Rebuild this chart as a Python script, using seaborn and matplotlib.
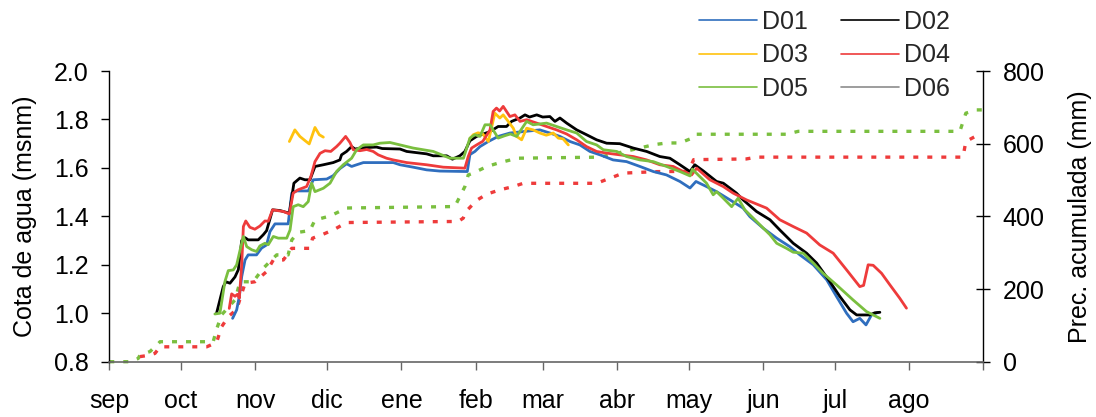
import matplotlib
matplotlib.use('Agg')
import seaborn as sns
from matplotlib import pyplot as plt

# eje x: dias contados desde el 1 de septiembre
meses = ['sep', 'oct', 'nov', 'dic', 'ene', 'feb', 'mar', 'abr', 'may', 'jun', 'jul', 'ago', '']
inicio_mes = [0, 30, 61, 91, 122, 153, 181, 212, 242, 273, 303, 334, 365]

# cota de agua (msnm) por pozo
d01_dia = [51.5, 53.2, 54.3, 55.3, 56.7, 58, 61.5, 63.6, 65.7, 67.1, 69.2, 74.7, 76.2, 78.2, 83.1, 85.2,
           90.8, 93.5, 96.3, 99.1, 101.2, 103.3, 106.1, 118.6, 121.4, 126.9, 132.5, 138, 149.5, 150.6,
           152.7, 154.8, 158.3, 162.4, 167.3, 172.9, 179.8, 184, 188.2, 192.4, 196.5, 200.7, 204.9,
           210.4, 216, 221.6, 227.2, 232.7, 238.3, 242.5, 245, 249.4, 253.6, 259.2, 264.7, 267.5,
           273.1, 278.7, 284.2, 288.4, 294, 299.6, 303.7, 307.9, 310.6, 313.4, 316, 318.3, 321.1]
d01_cota = [0.979, 1.014, 1.069, 1.151, 1.22, 1.241, 1.241, 1.269, 1.282, 1.337, 1.369, 1.369, 1.496,
            1.505, 1.505, 1.551, 1.554, 1.568, 1.597, 1.617, 1.606, 1.613, 1.622, 1.622, 1.613, 1.603,
            1.592, 1.587, 1.585, 1.655, 1.668, 1.688, 1.709, 1.73, 1.744, 1.75, 1.757, 1.744, 1.73,
            1.709, 1.695, 1.668, 1.654, 1.633, 1.626, 1.606, 1.585, 1.571, 1.544, 1.517, 1.544, 1.523,
            1.502, 1.468, 1.434, 1.399, 1.351, 1.31, 1.275, 1.241, 1.2, 1.138, 1.069, 1.0, 0.965,
            0.979, 0.952, 0.993, 1.004]

d02_dia = [44.8, 47.6, 48.7, 50.4, 52.5, 53.9, 55.3, 56.7, 58, 62.2, 64.3, 65.7, 68.2, 71.3, 75.2,
           77.1, 79.6, 81.7, 83.8, 85.9, 89.4, 93.5, 96.3, 97, 99.1, 101.2, 102.6, 107, 111.6, 114,
           121.4, 124.2, 132.5, 135.3, 140.9, 143.3, 146.4, 148.5, 150.6, 153.4, 159, 162.4, 165.9,
           168, 171.5, 173.6, 175.5, 178.5, 181, 184, 186.1, 188.2, 191, 195.2, 199.3, 203.5, 207.7,
           213.2, 218.8, 224.4, 229.9, 234.1, 238.3, 242.5, 244.5, 248, 253.6, 256.4, 261.9, 264.7,
           270.3, 275.9, 280, 285.6, 291.2, 295.4, 300.9, 305.1, 309.3, 312.1, 317.6, 319.7, 321.8]
d02_cota = [1.0, 1.11, 1.13, 1.124, 1.15, 1.18, 1.3, 1.312, 1.303, 1.303, 1.324, 1.341, 1.427, 1.424,
            1.413, 1.537, 1.558, 1.551, 1.551, 1.606, 1.613, 1.622, 1.633, 1.654, 1.668, 1.688, 1.678,
            1.684, 1.686, 1.68, 1.678, 1.668, 1.658, 1.65, 1.65, 1.636, 1.65, 1.668, 1.712, 1.73, 1.75,
            1.771, 1.771, 1.792, 1.806, 1.819, 1.81, 1.819, 1.81, 1.812, 1.792, 1.806, 1.785, 1.757,
            1.737, 1.716, 1.702, 1.70, 1.682, 1.668, 1.647, 1.64, 1.613, 1.585, 1.613, 1.588, 1.544,
            1.537, 1.496, 1.468, 1.42, 1.386, 1.344, 1.289, 1.248, 1.207, 1.131, 1.069, 1.014, 0.993,
            0.993, 1.002, 1.004]

# D03 tiene dos tramos
d03a_dia = [75.2, 77.5, 79.6, 81.7, 83.5, 85.9, 87.7, 89.4]
d03a_cota = [1.709, 1.757, 1.73, 1.713, 1.699, 1.767, 1.737, 1.727]
d03b_dia = [150.5, 152, 154, 156, 158.3, 159.5, 161, 163.1, 164.5, 166.6, 168.7, 170.1, 172.2, 174.3,
            177, 179.8, 182.5, 185.4, 187.5, 189.5, 191.7]
d03b_cota = [1.72, 1.737, 1.745, 1.74, 1.709, 1.76, 1.826, 1.806, 1.819, 1.792, 1.764, 1.73, 1.716,
             1.764, 1.757, 1.744, 1.735, 1.744, 1.723, 1.72, 1.695]

d04_dia = [50.1, 51.1, 52.5, 53.5, 54.3, 55.3, 56, 57, 58.7, 60.8, 62.9, 65, 66.4, 68.2, 72.7, 75.2,
           76.8, 78.9, 82.4, 84.2, 85.9, 88, 90.1, 92.5, 94.9, 96.3, 98.7, 100.5, 101.9, 104.7, 107.5,
           110.2, 112.3, 115.8, 118.6, 124.2, 132.5, 139.5, 148.5, 149.9, 151.3, 153.4, 156, 159,
           160.3, 161.7, 163, 164.5, 165.9, 167.3, 169.4, 171.5, 174.3, 178.5, 182.6, 186.8, 191,
           195.2, 199.3, 203.5, 207.7, 213.2, 218.8, 224.4, 229.9, 235.5, 239.7, 243.2, 245.3, 250.8,
           256.4, 260.5, 266.1, 274.5, 280, 285.6, 291.2, 296.7, 302.3, 307.9, 313.4, 315, 316.9, 319,
           322.5, 326, 330.1, 332.9]
d04_cota = [1.02, 1.08, 1.07, 1.078, 1.062, 1.2, 1.358, 1.381, 1.355, 1.347, 1.36, 1.381, 1.38, 1.427,
            1.42, 1.41, 1.496, 1.51, 1.523, 1.565, 1.626, 1.66, 1.671, 1.668, 1.688, 1.702, 1.73, 1.705,
            1.675, 1.671, 1.676, 1.668, 1.654, 1.64, 1.633, 1.622, 1.613, 1.603, 1.599, 1.647, 1.682,
            1.695, 1.71, 1.757, 1.833, 1.847, 1.835, 1.854, 1.833, 1.812, 1.819, 1.792, 1.799, 1.785,
            1.771, 1.757, 1.74, 1.716, 1.688, 1.668, 1.661, 1.654, 1.647, 1.633, 1.613, 1.606, 1.585,
            1.571, 1.599, 1.551, 1.523, 1.496, 1.468, 1.434, 1.386, 1.358, 1.331, 1.282, 1.248, 1.179,
            1.11, 1.115, 1.2, 1.198, 1.165, 1.117, 1.062, 1.021]

d05_dia = [44.1, 46.2, 48.3, 49.7, 51.8, 53.2, 54.6, 56, 57.4, 59.5, 61.5, 62.9, 65, 66.4, 68.5, 70.6,
           74.1, 75.5, 76.8, 78.9, 81, 83.1, 84.5, 85.9, 89.4, 92.2, 94.9, 97.7, 101.2, 103.3, 106.1,
           110.2, 113, 117.2, 121.4, 126.9, 135.3, 142.3, 147.9, 150.6, 152.7, 154.8, 156.9, 159,
           162.4, 165.2, 167.5, 170.1, 174.3, 177, 182.6, 186.8, 191, 195.2, 199.3, 203.5, 206.3,
           211.9, 216, 221.6, 227.2, 232.7, 238.3, 242.5, 243.5, 246, 249.4, 252.2, 253.6, 256.4,
           259.9, 262.6, 265.4, 270.3, 275.9, 278.7, 282.8, 285.6, 289.8, 294, 298.1, 303.7, 310.6,
           316.2, 321.8]
d05_cota = [0.997, 1.0, 1.131, 1.176, 1.179, 1.2, 1.26, 1.317, 1.275, 1.262, 1.255, 1.278, 1.289, 1.283,
            1.317, 1.31, 1.31, 1.344, 1.44, 1.448, 1.44, 1.461, 1.537, 1.502, 1.516, 1.537, 1.585, 1.613,
            1.64, 1.675, 1.695, 1.695, 1.702, 1.705, 1.695, 1.682, 1.668, 1.64, 1.64, 1.723, 1.737,
            1.73, 1.778, 1.778, 1.723, 1.733, 1.74, 1.73, 1.792, 1.778, 1.785, 1.771, 1.757, 1.744,
            1.709, 1.695, 1.675, 1.668, 1.647, 1.633, 1.626, 1.606, 1.585, 1.567, 1.595, 1.57, 1.537,
            1.489, 1.502, 1.475, 1.44, 1.475, 1.427, 1.379, 1.324, 1.289, 1.268, 1.252, 1.248, 1.207,
            1.165, 1.117, 1.055, 1.007, 0.979]

d06_dia = []
d06_cota = []

# precipitacion acumulada (mm), dos estaciones
prec_verde_dia = [0, 8.6, 12.1, 12.8, 17, 20.5, 21.2, 43.4, 44.8, 46.9, 52.5, 54.6, 60.1, 62.9, 64.3,
                  66.4, 69.9, 74.7, 76.2, 78.9, 83.8, 85.9, 92.2, 97.6, 99.1, 144.3, 148.5, 149.9,
                  152, 157.6, 163.1, 168, 170.1, 204.9, 220.2, 227.2, 232.7, 238.3, 242.5, 244.5,
                  282.8, 287.7, 355.2, 357.7, 362.2, 364.5]
prec_verde_mm = [0, 0, 9, 18, 28, 50, 55, 55, 89, 129, 170, 220, 220, 245, 257, 271, 294, 294, 335,
                 356, 361, 390, 401, 418, 423, 427, 482, 514, 519, 537, 548, 556, 560, 563, 586, 597,
                 602, 602, 613, 626, 626, 634, 634, 684, 693, 693]

prec_roja_dia = [12.8, 17, 19.1, 21.2, 40.7, 44.8, 46.9, 49.7, 53.2, 56.7, 60.8, 65.7, 68.5, 72.7,
                 76.2, 83.8, 84.9, 89.4, 94.2, 99.1, 145.7, 147.8, 148.9, 153.4, 157.6, 163.1, 168.7,
                 172.9, 203.5, 209.1, 214.6, 221.6, 227.2, 242, 244, 266, 270.3, 356.5, 357.7, 362.2,
                 364]
prec_roja_mm = [14, 18, 23, 41, 41, 53, 96, 124, 144, 216, 220, 248, 280, 280, 312, 312, 340, 351, 365,
                383, 386, 395, 413, 444, 461, 473, 482, 491, 491, 505, 519, 521, 523, 524, 556, 558,
                563, 563, 606, 622, 622]

azul = '#2f6ebe'
negro = '#000000'
amarillo = '#ffc20e'
rojo = '#ee3b3b'
verde = '#7abf3f'
gris = '#8c8c8c'

sns.set_theme(style='white')
plt.rcParams['font.family'] = ['Liberation Sans', 'DejaVu Sans']

fig = plt.figure(figsize=(10.96, 4.17), dpi=100)
ax = fig.add_axes([0.0997, 0.1326, 0.7975, 0.6971])
ax2 = ax.twinx()

punteado = (0, (1.5, 2.7))
sns.lineplot(x=prec_verde_dia, y=prec_verde_mm, ax=ax2, color=verde, lw=2.4, linestyle=punteado,
             estimator=None, sort=False, legend=False, clip_on=False)
sns.lineplot(x=prec_roja_dia, y=prec_roja_mm, ax=ax2, color=rojo, lw=2.4, linestyle=punteado,
             estimator=None, sort=False, legend=False, clip_on=False)

lw = 2.0
sns.lineplot(x=d01_dia, y=d01_cota, ax=ax, color=azul, lw=lw, estimator=None, sort=False, label='D01')
sns.lineplot(x=d02_dia, y=d02_cota, ax=ax, color=negro, lw=lw, estimator=None, sort=False, label='D02')
sns.lineplot(x=d03a_dia, y=d03a_cota, ax=ax, color=amarillo, lw=lw, estimator=None, sort=False, label='D03')
sns.lineplot(x=d03b_dia, y=d03b_cota, ax=ax, color=amarillo, lw=lw, estimator=None, sort=False)
sns.lineplot(x=d04_dia, y=d04_cota, ax=ax, color=rojo, lw=lw, estimator=None, sort=False, label='D04')
sns.lineplot(x=d05_dia, y=d05_cota, ax=ax, color=verde, lw=lw, estimator=None, sort=False, label='D05')
ax.plot(d06_dia, d06_cota, color=gris, lw=lw, label='D06')

ax.set_zorder(ax2.get_zorder() + 1)
ax.patch.set_visible(False)

ax.set_xlim(0, 365)
ax.set_ylim(0.8, 2.0)
ax2.set_ylim(0, 800)
ax.set_xticks(inicio_mes)
ax.set_xticklabels(meses)
ax.set_yticks([0.8, 1.0, 1.2, 1.4, 1.6, 1.8, 2.0])
ax.set_yticklabels(['0.8', '1.0', '1.2', '1.4', '1.6', '1.8', '2.0'])
ax2.set_yticks([0, 200, 400, 600, 800])

for s in ['top', 'right']:
    ax.spines[s].set_visible(False)
for s in ['top', 'left', 'bottom']:
    ax2.spines[s].set_visible(False)
ax.spines['left'].set_color('black')
ax.spines['left'].set_linewidth(1.0)
ax.spines['bottom'].set_color('#666666')
ax.spines['bottom'].set_linewidth(1.2)
ax2.spines['right'].set_color('black')
ax2.spines['right'].set_linewidth(1.0)

ax.tick_params(axis='x', bottom=True, direction='out', length=6, width=1, color='#666666',
               labelsize=18, pad=13.5, labelcolor='black')
ax.tick_params(axis='y', left=True, direction='out', length=5.8, width=1, color='black',
               labelsize=18, pad=9, labelcolor='black')
ax2.tick_params(axis='y', right=True, direction='inout', length=10, width=1, color='black',
                labelsize=18, pad=9, labelcolor='black')

ax.set_ylabel('Cota de agua (msnm)', fontsize=18, color='black')
ax.yaxis.set_label_coords(-0.0827, 0.5)
ax2.set_ylabel('Prec. acumulada (mm)', fontsize=18, color='black')
ax2.yaxis.set_label_coords(1.0969, 0.5)
ax.set_xlabel('')

h, l = ax.get_legend_handles_labels()
if ax.get_legend() is not None:
    ax.get_legend().remove()
orden = ['D01', 'D03', 'D05', 'D02', 'D04', 'D06']
handles = [h[l.index(n)] for n in orden]
leg = fig.legend(handles, orden, loc='upper left', bbox_to_anchor=(0.629, 1.0), ncol=2, frameon=False,
                 fontsize=18, handlelength=2.32, handletextpad=0.2, columnspacing=1.3,
                 labelspacing=0.38, borderpad=0.4, borderaxespad=0)
for linea in leg.get_lines():
    linea.set_linewidth(1.2)

fig.savefig('out.png', dpi=100)
